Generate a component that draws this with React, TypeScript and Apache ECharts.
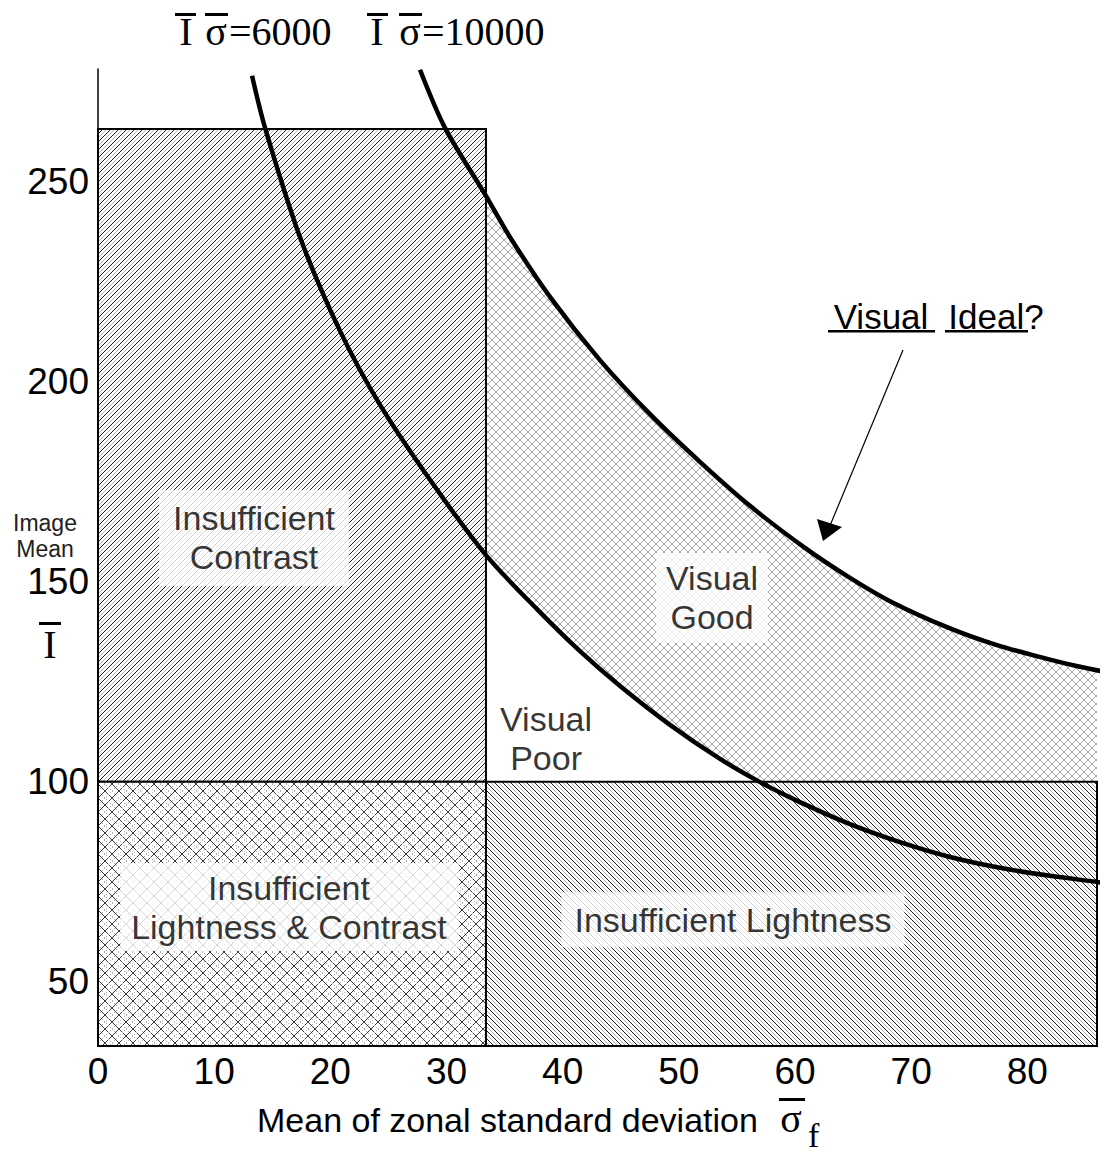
import React, { useEffect, useRef } from 'react';
import * as echarts from 'echarts';

// ---- axes ----
const sigmaTicks = [0, 10, 20, 30, 40, 50, 60, 70, 80];
const meanTicks = [50, 100, 150, 200, 250];
const sigmaMin = 0;
const sigmaMax = 86;
const meanMin = 34;
const meanMax = 278;

// ---- zone limits ----
const contrastLimit = 33.4; // mean zonal std deviation
const lightnessLimit = 100; // image mean
const meanTop = 263;

// ---- iso-curves: [sigma, mean] ----
const curve6000 = [
  [13.26, 276.3], [14.38, 263.3], [17.39, 236.0], [20.83, 212.6], [24.28, 194.1],
  [28.58, 175.4], [33.4, 156.6], [37.79, 143.1], [41.49, 132.6], [44.94, 123.9],
  [49.24, 114.2], [53.55, 105.7], [56.99, 99.9], [60.43, 94.9], [64.74, 89.4],
  [69.04, 84.9], [73.35, 81.2], [77.65, 78.5], [81.95, 76.5], [85.91, 75.0], [87.12, 74.5],
];
const curve10000 = [
  [27.72, 277.8], [29.87, 263.3], [33.4, 246.3], [35.47, 236.0], [38.91, 221.1],
  [43.21, 205.3], [47.52, 191.8], [51.82, 179.9], [56.13, 168.9], [60.86, 158.4],
  [64.74, 150.9], [68.18, 145.1], [73.09, 138.6], [77.39, 134.1], [81.7, 130.7],
  [84.54, 128.7], [87.12, 127.2],
];

// ---- zone label anchors ----
const zoneLabels = [
  { name: 'Insufficient\nContrast', value: [13.43, 160.9], padding: [9, 14], box: true },
  { name: 'Insufficient\nLightness & Contrast', value: [16.44, 68.7], padding: [5, 11], box: true },
  { name: 'Insufficient Lightness', value: [54.66, 65.5], padding: [8, 13], box: true },
  { name: 'Visual\nGood', value: [52.86, 145.9], padding: [6, 10], box: true },
  { name: 'Visual\nPoor', value: [38.57, 110.7], padding: [0, 0], box: false },
];

const SANS = '"Liberation Sans", Arial, sans-serif';
const SERIF = '"Liberation Serif", "Times New Roman", serif';

function interpY(curve: number[][], x: number) {
  for (let i = 0; i < curve.length - 1; i++) {
    const a = curve[i], b = curve[i + 1];
    if (x >= a[0] && x <= b[0]) {
      const t = (x - a[0]) / (b[0] - a[0]);
      return a[1] + t * (b[1] - a[1]);
    }
  }
  return curve[curve.length - 1][1];
}
function interpXAtY(curve: number[][], y: number) {
  for (let i = 0; i < curve.length - 1; i++) {
    const a = curve[i], b = curve[i + 1];
    if ((y <= a[1] && y >= b[1]) || (y >= a[1] && y <= b[1])) {
      const t = (y - a[1]) / (b[1] - a[1]);
      return a[0] + t * (b[0] - a[0]);
    }
  }
  return curve[curve.length - 1][0];
}

function makeTile(size: number, draw: (ctx: CanvasRenderingContext2D) => void) {
  const c = document.createElement('canvas');
  c.width = size;
  c.height = size;
  const ctx = c.getContext('2d') as CanvasRenderingContext2D;
  ctx.fillStyle = '#ffffff';
  ctx.fillRect(0, 0, size, size);
  draw(ctx);
  return c;
}

function buildPatterns() {
  const px = (ctx: CanvasRenderingContext2D, x: number, y: number, c: string) => {
    ctx.fillStyle = c;
    ctx.fillRect(x, y, 1, 1);
  };
  const hatchUp = makeTile(8, (ctx) => {
    for (let i = 0; i < 8; i++) {
      px(ctx, i, 7 - i, '#1a1a1a');
      px(ctx, i, (7 - i + 4) % 8, '#b4b4b4');
    }
  });
  const hatchDown = makeTile(8, (ctx) => {
    for (let i = 0; i < 8; i++) {
      px(ctx, i, i, '#1a1a1a');
      px(ctx, i, (i + 4) % 8, '#b4b4b4');
    }
  });
  const cross = makeTile(14, (ctx) => {
    for (let i = 0; i < 14; i++) {
      px(ctx, i, i, '#3a3a3a');
      px(ctx, i, 13 - i, '#3a3a3a');
      if (i % 2 === 0) {
        px(ctx, i, (i + 7) % 14, '#b0b0b0');
        px(ctx, i, (13 - i + 7) % 14, '#b0b0b0');
      }
    }
  });
  const fine = makeTile(8, (ctx) => {
    for (let i = 0; i < 8; i++) {
      px(ctx, i, i, '#a6a6a6');
      px(ctx, i, 7 - i, '#a6a6a6');
    }
  });
  const pat = (c: HTMLCanvasElement) => ({ image: c, repeat: 'repeat' });
  return { hatchUp: pat(hatchUp), hatchDown: pat(hatchDown), cross: pat(cross), fine: pat(fine) };
}

export default function App() {
  const ref = useRef<HTMLDivElement>(null);

  useEffect(() => {
    if (!ref.current) return;
    const chart = echarts.init(ref.current, null, { renderer: 'svg' });
    const patterns = buildPatterns();

    const x100 = interpXAtY(curve6000, lightnessLimit);
    const goodPoly: number[][] = [
      [contrastLimit, interpY(curve10000, contrastLimit)],
      ...curve10000.filter((p) => p[0] > contrastLimit && p[0] < sigmaMax),
      [sigmaMax, interpY(curve10000, sigmaMax)],
      [sigmaMax, lightnessLimit],
      [x100, lightnessLimit],
      ...curve6000.filter((p) => p[0] > contrastLimit && p[0] < x100).reverse(),
      [contrastLimit, interpY(curve6000, contrastLimit)],
    ];

    const rect = (x0: number, y0: number, x1: number, y1: number) => [
      [x0, y0], [x1, y0], [x1, y1], [x0, y1],
    ];

    const zones = [
      { points: goodPoly, fill: patterns.fine, stroke: false },
      { points: rect(sigmaMin, lightnessLimit, contrastLimit, meanTop), fill: patterns.hatchUp, stroke: true },
      { points: rect(sigmaMin, meanMin, contrastLimit, lightnessLimit), fill: patterns.cross, stroke: true },
      { points: rect(contrastLimit, meanMin, sigmaMax, lightnessLimit), fill: patterns.hatchDown, stroke: true },
    ];

    const txt = (text: string, x: number, y: number, font: string, align = 'center', extra: any = {}) => ({
      type: 'text',
      x,
      y,
      silent: true,
      style: {
        text,
        font,
        fill: '#000',
        align,
        verticalAlign: 'middle',
        textAlign: align,
        textVerticalAlign: 'middle',
        ...extra,
      },
    });
    const bar = (x: number, y: number, w: number, h: number) => ({
      type: 'rect',
      silent: true,
      shape: { x, y, width: w, height: h },
      style: { fill: '#000' },
    });

    const option: any = {
      animation: false,
      backgroundColor: '#ffffff',
      grid: { left: 98, right: 13, top: 69, bottom: 106 },
      xAxis: {
        type: 'value',
        min: sigmaMin,
        max: sigmaMax,
        axisLine: { show: true, onZero: false, lineStyle: { color: '#000', width: 1.5 } },
        axisTick: { show: false },
        splitLine: { show: false },
        axisLabel: {
          customValues: sigmaTicks,
          fontSize: 37,
          color: '#000',
          fontFamily: SANS,
          margin: 7,
        },
      },
      yAxis: {
        type: 'value',
        min: meanMin,
        max: meanMax,
        axisLine: { show: true, onZero: false, lineStyle: { color: '#000', width: 1.5 } },
        axisTick: { show: false },
        splitLine: { show: false },
        axisLabel: {
          customValues: meanTicks,
          fontSize: 37,
          color: '#000',
          fontFamily: SANS,
          margin: 9,
        },
      },
      series: [
        {
          type: 'custom',
          z: 1,
          silent: true,
          data: zones.map((z) => z.points[0]),
          renderItem: (params: any, api: any) => {
            const z = zones[params.dataIndex];
            const pts = z.points.map((p) => api.coord(p));
            return {
              type: 'polygon',
              shape: { points: pts },
              style: {
                fill: z.fill,
                stroke: z.stroke ? '#000' : null,
                lineWidth: z.stroke ? 2 : 0,
              },
            };
          },
        },
        {
          type: 'line',
          name: '6000',
          z: 3,
          data: curve6000,
          symbol: 'none',
          smooth: 0.3,
          clip: false,
          silent: true,
          lineStyle: { color: '#000', width: 4.5 },
        },
        {
          type: 'line',
          name: '10000',
          z: 3,
          data: curve10000,
          symbol: 'none',
          smooth: 0.3,
          clip: false,
          silent: true,
          lineStyle: { color: '#000', width: 4.5 },
        },
        {
          type: 'scatter',
          z: 5,
          silent: true,
          symbolSize: 1,
          itemStyle: { color: 'rgba(0,0,0,0)' },
          data: zoneLabels.map((l) => ({
            name: l.name,
            value: l.value,
            label: {
              show: true,
              position: 'inside',
              formatter: '{b}',
              fontSize: 34,
              lineHeight: 39,
              color: '#000',
              fontFamily: SANS,
              backgroundColor: l.box ? '#ffffff' : 'transparent',
              padding: l.padding,
            },
          })),
        },
      ],
      graphic: [
        // curve captions
        txt('I', 186, 31, `40px ${SERIF}`),
        txt('σ', 216, 31, `40px ${SERIF}`),
        txt('=6000', 229, 31, `40px ${SERIF}`, 'left'),
        bar(175, 13, 21, 3),
        bar(205, 13, 23, 3),
        txt('I', 377, 31, `40px ${SERIF}`),
        txt('σ', 410, 31, `40px ${SERIF}`),
        txt('=10000', 422, 31, `40px ${SERIF}`, 'left'),
        bar(367, 13, 21, 3),
        bar(399, 13, 23, 3),
        // y axis name
        txt('Image\nMean', 45, 536, `23px ${SANS}`, 'center', { lineHeight: 26, fill: '#222' }),
        txt('I', 50, 644, `40px ${SERIF}`),
        bar(39, 622, 22, 3),
        // x axis name
        txt('Mean of zonal standard deviation', 257, 1120, `34px ${SANS}`, 'left'),
        txt('σ', 791, 1118, `40px ${SERIF}`),
        bar(779, 1098, 26, 3),
        txt('f', 808, 1135, `34px ${SERIF}`, 'left'),
        // Visual Ideal? annotation
        txt('Visual', 881, 316, `35px ${SANS}`),
        txt('Ideal?', 996, 316, `35px ${SANS}`),
        bar(828, 330, 107, 2.5),
        bar(945, 330, 83, 2.5),
        {
          type: 'line',
          silent: true,
          shape: { x1: 903, y1: 350, x2: 829, y2: 528 },
          style: { stroke: '#000', lineWidth: 1.2 },
        },
        {
          type: 'polygon',
          silent: true,
          shape: { points: [[823, 541], [817, 519], [842, 527]] },
          style: { fill: '#000' },
        },
      ],
    };

    chart.setOption(option);
    return () => chart.dispose();
  }, []);

  return (
    <div
      ref={ref}
      style={{ position: 'fixed', left: 0, top: 0, width: 1110, height: 1152, background: '#fff' }}
    />
  );
}
